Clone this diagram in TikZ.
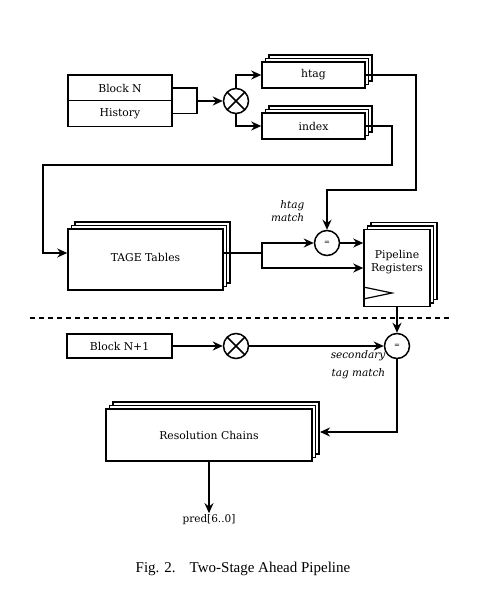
\documentclass[tikz,border=0pt]{standalone}
\usepackage{fontspec}
\setmainfont{DejaVu Serif}
\newfontfamily\capfont{Liberation Serif}
\usetikzlibrary{arrows.meta,shadows,calc}
\begin{document}
\begin{tikzpicture}[x=1pt,y=-1pt,
  line width=1.5pt,
  arr/.style={-{Stealth[length=10pt,width=9pt]}},
  txt/.style={font=\fontsize{10.8}{13}\selectfont},
  box/.style={draw,fill=white,inner sep=0pt,txt},
  stackbox/.style={box,double copy shadow={shadow xshift=3.5pt,shadow yshift=3.5pt}},
  mult/.style={draw,circle,fill=white,minimum size=25pt,inner sep=0pt,
    path picture={\draw[line width=1.5pt] (path picture bounding box.north west)--(path picture bounding box.south east)
      (path picture bounding box.north east)--(path picture bounding box.south west);}},
  cmp/.style={draw,circle,fill=white,minimum size=25pt,inner sep=0pt,font=\fontsize{7}{8}\selectfont},
  lbl/.style={font=\fontsize{10.5}{12}\selectfont\itshape,align=right,inner sep=0pt}
]
\useasboundingbox (0,0) rectangle (484,600);

\node[box,minimum width=104pt,minimum height=26pt] (blockN) at (120,88) {Block N};
\node[box,minimum width=104pt,minimum height=26pt] (hist) at (120,113.5) {History};
\node[mult] (x1) at (236,101) {};
\node[stackbox,minimum width=103pt,minimum height=26pt] (htag) at (313.5,75) {htag};
\node[stackbox,minimum width=103pt,minimum height=26pt] (index) at (313.5,126) {index};
\node[stackbox,minimum width=155pt,minimum height=61pt] (tage) at (145.5,259.5) {\raisebox{4pt}{TAGE Tables}};
\node[cmp] (eq1) at (327,243) {=};
\node[stackbox,minimum width=66pt,minimum height=77pt] (pipe) at (397,268) {};
\node[txt,align=center,inner sep=0pt] (pipetxt) at (397,262) {Pipeline\\Registers};
\draw[line width=1.2pt] (pipe.west |- 0,287) -- (392,293) -- (pipe.west |- 0,299);
\node[box,minimum width=105pt,minimum height=24pt] (blockN1) at (119.5,346) {Block N+1};
\node[mult] (x2) at (236,346) {};
\node[cmp] (eq2) at (397,346) {=};
\node[stackbox,minimum width=206pt,minimum height=52pt] (res) at (209,435) {Resolution Chains};
\node[font=\fontsize{10.5}{12}\selectfont,inner sep=1pt] (pred) at (209,520) {pred[6..0]};

\node[lbl,anchor=east] (hm) at (305,211) {htag\\[1pt]match};
\node[lbl,anchor=north east] (stm) at (386,350) {secondary\\[6pt]tag match};

\coordinate (j1) at (197,101);
\draw (blockN.east) -| (j1);
\draw (hist.east) -| (j1);
\draw[arr] (j1) -- (x1.west);
\draw[arr] (x1.north) |- (htag.west);
\draw[arr] (x1.south) |- (index.west);

\coordinate (c1) at (416,190);
\draw[arr] (htag.east) -| (c1) -| (eq1.north);
\coordinate (c2) at (392,165);
\coordinate (c3) at (43,253);
\draw[arr] (index.east) -| (c2) -| (c3) -- (c3 -| tage.west);

\coordinate (c4) at (262,253);
\draw (c4 -| tage.east) -- (c4);
\draw[arr] (c4) |- (eq1.west);
\draw[arr] (c4) |- (pipe.west);
\draw[arr] (eq1.east) -- (eq1.east -| pipe.west);

\draw[arr] (pipe.south) -- (eq2.north);
\draw[line width=1.2pt,dash pattern=on 5pt off 4pt] (30,318) -- (452,318);

\draw[arr] (blockN1.east) -- (x2.west);
\draw[arr] (x2.east) -- (eq2.west);
\coordinate (c6) at (320,432);
\draw[arr] (eq2.south) |- (c6);
\draw[arr] (res.south) -- (pred.north);

\node[font=\capfont\fontsize{15}{18}\selectfont] (cap) at (243,569) {Fig. 2.\hspace{0.6em} Two-Stage Ahead Pipeline};
\end{tikzpicture}
\end{document}
